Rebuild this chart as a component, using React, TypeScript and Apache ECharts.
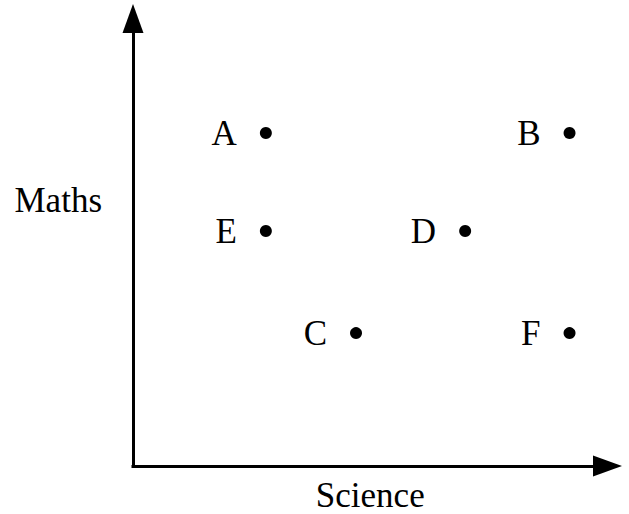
import { useEffect, useRef } from "react";
import * as echarts from "echarts";

const pointNames = ["A", "B", "C", "D", "E", "F"];
const scienceValues = [28, 92, 47, 70, 28, 92];
const mathsValues = [74.4, 74.4, 29.7, 52.5, 52.5, 29.7];
const xTitle = "Science";
const yTitle = "Maths";

const FONT = "'Liberation Serif', 'Times New Roman', serif";

export default function App() {
  const ref = useRef<HTMLDivElement>(null);
  useEffect(() => {
    if (!ref.current) return;
    const chart = echarts.init(ref.current, null, { renderer: "svg" });
    const axisCommon = {
      type: "value" as const,
      min: 0,
      max: 100,
      splitLine: { show: false },
      axisTick: { show: false },
      axisLabel: { show: false },
      axisLine: {
        show: true,
        onZero: false,
        symbol: ["none", "triangle"],
        symbolSize: [21, 29],
        lineStyle: { color: "#000", width: 3, cap: "square" },
      },
      nameTextStyle: { fontFamily: FONT, fontSize: 35, color: "#000" },
    };
    chart.setOption({
      animation: false,
      backgroundColor: "#fff",
      grid: {
        left: 133,
        top: 18.5,
        right: 21.5,
        bottom: 48,
        containLabel: false,
        outerBoundsMode: "none",
      },
      xAxis: {
        ...axisCommon,
        name: xTitle,
        nameLocation: "middle",
        nameGap: 12,
        nameTextStyle: { ...axisCommon.nameTextStyle, verticalAlign: "top" },
      },
      yAxis: {
        ...axisCommon,
        name: "",
      },
      graphic: [
        {
          type: "text",
          x: 102,
          y: 200,
          style: {
            text: yTitle,
            font: `35px ${FONT}`,
            fill: "#000",
            align: "right",
            verticalAlign: "middle",
          },
        },
      ],
      series: [
        {
          type: "scatter",
          symbol: "circle",
          symbolSize: 12,
          itemStyle: { color: "#000", opacity: 1 },
          label: {
            show: true,
            position: "left",
            distance: 23,
            formatter: "{b}",
            fontFamily: FONT,
            fontSize: 35,
            color: "#000",
          },
          data: pointNames.map((n, i) => ({ name: n, value: [scienceValues[i], mathsValues[i]] })),
        },
      ],
    });
    return () => chart.dispose();
  }, []);
  return (
    <div
      ref={ref}
      style={{ position: "fixed", left: 0, top: 0, width: 629, height: 514, background: "#fff" }}
    />
  );
}
